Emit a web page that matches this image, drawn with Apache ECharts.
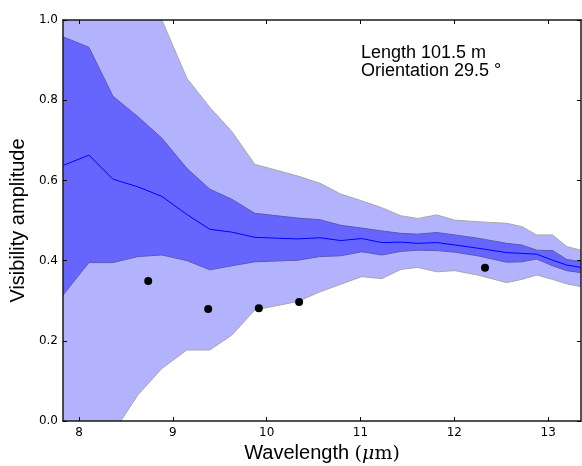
<!DOCTYPE html>
<html><head><meta charset="utf-8">
<script src="https://cdn.jsdelivr.net/npm/echarts@6/dist/echarts.min.js"></script>
<style>html,body{margin:0;padding:0;background:#fff}#c{width:582px;height:466px}</style>
</head><body><div id="c"></div>
<script>
const wavelength = [7.830, 8.106, 8.362, 8.628, 8.884, 9.150, 9.395, 9.629, 9.874, 10.332, 10.567, 10.790, 11.014, 11.227, 11.429, 11.610, 11.813, 12.004, 12.249, 12.558, 12.718, 12.878, 13.048, 13.197, 13.350];
const median     = [0.637, 0.663, 0.603, 0.584, 0.560, 0.515, 0.478, 0.471, 0.458, 0.454, 0.457, 0.450, 0.455, 0.445, 0.446, 0.443, 0.445, 0.439, 0.431, 0.420, 0.418, 0.416, 0.401, 0.389, 0.383];
const outerUpper = [1.30, 1.24, 1.18, 1.10, 1.00, 0.855, 0.782, 0.722, 0.640, 0.611, 0.593, 0.566, 0.549, 0.532, 0.512, 0.505, 0.514, 0.501, 0.497, 0.493, 0.485, 0.464, 0.464, 0.435, 0.426];
const innerUpper = [0.958, 0.932, 0.810, 0.759, 0.705, 0.630, 0.578, 0.553, 0.518, 0.506, 0.502, 0.488, 0.481, 0.474, 0.468, 0.466, 0.470, 0.464, 0.456, 0.443, 0.439, 0.426, 0.425, 0.403, 0.397];
const innerLower = [0.314, 0.395, 0.395, 0.410, 0.414, 0.400, 0.377, 0.387, 0.397, 0.401, 0.410, 0.412, 0.422, 0.414, 0.423, 0.426, 0.425, 0.421, 0.412, 0.396, 0.397, 0.404, 0.387, 0.375, 0.370];
const outerLower = [-0.15, -0.10, -0.03, 0.065, 0.131, 0.177, 0.177, 0.214, 0.277, 0.298, 0.322, 0.341, 0.360, 0.355, 0.378, 0.383, 0.372, 0.375, 0.364, 0.345, 0.353, 0.364, 0.353, 0.342, 0.335];
const obsWavelength = [8.738, 9.377, 9.917, 10.346, 12.327];
const obsAmplitude  = [0.349, 0.279, 0.281, 0.297, 0.382];
const xTicks = [8, 9, 10, 11, 12, 13];
const annotation = ['Length 101.5 m', 'Orientation 29.5 \u00b0'];

const LIGHT = '#b3b3fd', DARK = '#6666ff';
const pairs = arr => wavelength.map((w, i) => [w, arr[i]]);

function band(lower, upper, fill, z) {
  return {
    type: 'custom', coordinateSystem: 'cartesian2d', clip: true, silent: true, z: z,
    data: [[wavelength[0], lower[0]]],
    encode: {x: 0, y: 1},
    renderItem: function (params, api) {
      const pts = [];
      for (let i = 0; i < wavelength.length; i++) pts.push(api.coord([wavelength[i], upper[i]]));
      for (let i = wavelength.length - 1; i >= 0; i--) pts.push(api.coord([wavelength[i], lower[i]]));
      const cs = params.coordSys;
      return {
        type: 'polygon',
        shape: {points: pts},
        style: {fill: fill, stroke: null},
        clipPath: {type: 'rect', shape: {x: cs.x, y: cs.y, width: cs.width, height: cs.height}}
      };
    }
  };
}
const edge = (arr, color) => ({type: 'line', data: pairs(arr), symbol: 'none', showSymbol: false,
  lineStyle: {color, width: 1}, silent: true, z: 3});
const axLine = () => ({show: true, onZero: false, lineStyle: {color: '#1a1a1a', width: 1.5}});
const tick = (extra) => Object.assign({show: true, inside: true, length: 4, lineStyle: {color: '#000', width: 1}}, extra || {});

const chart = echarts.init(document.getElementById('c'), null, {renderer: 'canvas'});
chart.setOption({
  animation: false,
  grid: {left: 63, right: 1, top: 20, bottom: 45, containLabel: false, outerBoundsMode: 'none'},
  xAxis: [
    {type: 'value', position: 'bottom', min: 7.83, max: 13.35, splitLine: {show: false}, z: 20,
      axisLine: axLine(),
      axisTick: tick({customValues: xTicks}),
      axisLabel: {show: true, customValues: xTicks, margin: 6, color: '#000', fontSize: 12, fontFamily: 'DejaVu Sans'},
      name: '{a|Wavelength }{b|(}{c|\u03bc}{b|m)}', nameLocation: 'middle', nameGap: 14,
      nameTextStyle: {rich: {
        a: {fontFamily: 'Liberation Sans', fontSize: 20, color: '#000'},
        b: {fontFamily: 'DejaVu Serif', fontSize: 19, color: '#000'},
        c: {fontFamily: 'DejaVu Serif', fontStyle: 'italic', fontSize: 19, color: '#000'}
      }}},
    {type: 'value', position: 'top', min: 7.83, max: 13.35, splitLine: {show: false}, z: 20,
      axisLine: axLine(),
      axisTick: tick({customValues: xTicks}),
      axisLabel: {show: false}}
  ],
  yAxis: [
    {type: 'value', position: 'left', min: 0, max: 1, interval: 0.2, splitLine: {show: false}, z: 20,
      axisLine: axLine(), axisTick: tick(),
      axisLabel: {show: true, margin: 5, color: '#000', fontSize: 12, fontFamily: 'DejaVu Sans',
        formatter: v => v.toFixed(1)},
      name: 'Visibility amplitude', nameLocation: 'middle', nameGap: 24,
      nameTextStyle: {fontFamily: 'Liberation Sans', fontSize: 20, color: '#000'}},
    {type: 'value', position: 'right', min: 0, max: 1, interval: 0.2, splitLine: {show: false}, z: 20,
      axisLine: axLine(), axisTick: tick(),
      axisLabel: {show: false}}
  ],
  series: [
    band(outerLower, outerUpper, LIGHT, 1),
    band(innerLower, innerUpper, DARK, 2),
    edge(outerLower, '#a8a8a8'),
    edge(outerUpper, '#a8a8a8'),
    edge(innerLower, '#5a5ab4'),
    edge(innerUpper, '#5a5ab4'),
    {type: 'line', name: 'median', data: pairs(median), symbol: 'none', showSymbol: false,
      lineStyle: {color: '#0000ff', width: 1}, z: 4},
    {type: 'scatter', name: 'obs', data: obsWavelength.map((w, i) => [w, obsAmplitude[i]]),
      symbol: 'circle', symbolSize: 8, itemStyle: {color: '#000', opacity: 1}, z: 5}
  ],
  graphic: [{
    type: 'text', left: 361, top: 44, silent: true, z: 10,
    style: {text: annotation.join('\n'), fontFamily: 'Liberation Sans', fontSize: 18, lineHeight: 18, fill: '#000'}
  }]
});
</script></body></html>
